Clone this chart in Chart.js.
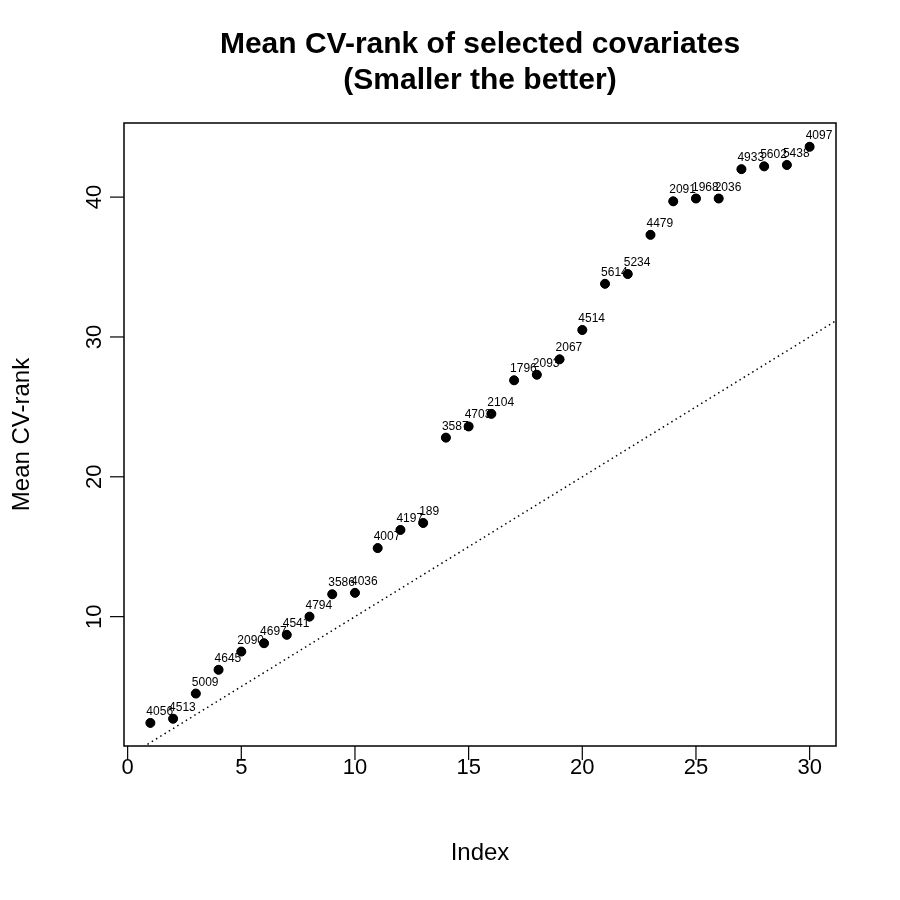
<!DOCTYPE html>
<html>
<head>
<meta charset="utf-8">
<script src="https://cdn.jsdelivr.net/npm/chart.js@4.4.1/dist/chart.umd.min.js"></script>
<style>
  html, body { margin: 0; padding: 0; background: #fff; }
  #wrap { width: 900px; height: 900px; }
</style>
</head>
<body>
<div id="wrap"><canvas id="cv"></canvas></div>
<script>
// données
const indices = [1, 2, 3, 4, 5, 6, 7, 8, 9, 10, 11, 12, 13, 14, 15, 16, 17, 18, 19, 20, 21, 22, 23, 24, 25, 26, 27, 28, 29, 30];
const meanRank = [2.4, 2.7, 4.5, 6.2, 7.5, 8.1, 8.7, 10.0, 11.6, 11.7, 14.9, 16.2, 16.7, 22.8, 23.6, 24.5, 26.9, 27.3, 28.4, 30.5, 33.8, 34.5, 37.3, 39.7, 39.9, 39.9, 42.0, 42.2, 42.3, 43.6];
const covLabels = ['4056', '4513', '5009', '4645', '2090', '4697', '4541', '4794', '3586', '4036', '4007', '4197', '189', '3587', '4703', '2104', '1796', '2093', '2067', '4514', '5614', '5234', '4479', '2091', '1968', '2036', '4933', '5602', '5438', '4097'];
const xTicks = [0, 5, 10, 15, 20, 25, 30];
const yTicks = [10, 20, 30, 40];
const refLine = [-1, 32]; // droite y = x

const FONT = '"Liberation Sans", Arial, Helvetica, sans-serif';

/* -------------------------------------------------------------------------- */
/*                        cadre, axes et textes façon R                        */
/* -------------------------------------------------------------------------- */
const rStyle = {
    id: 'rStyle',
    afterDatasetsDraw(chart) {
        const { ctx, chartArea: a, scales: { x, y } } = chart;
        ctx.save();

        // étiquettes des points
        ctx.fillStyle = '#000';
        ctx.font = '12px ' + FONT;
        ctx.textAlign = 'left';
        ctx.textBaseline = 'alphabetic';
        indices.forEach((ix, i) => {
            ctx.fillText(covLabels[i], x.getPixelForValue(ix) - 4, y.getPixelForValue(meanRank[i]) - 8);
        });
        // on redessine les points par-dessus les étiquettes
        indices.forEach((ix, i) => {
            ctx.beginPath();
            ctx.arc(x.getPixelForValue(ix), y.getPixelForValue(meanRank[i]), 4.5, 0, Math.PI * 2);
            ctx.fill();
        });

        // cadre
        ctx.strokeStyle = '#000';
        ctx.lineWidth = 1.5;
        ctx.strokeRect(a.left, a.top, a.right - a.left, a.bottom - a.top);

        // axe x
        ctx.lineWidth = 1.2;
        ctx.font = '22px ' + FONT;
        ctx.textAlign = 'center';
        ctx.textBaseline = 'middle';
        xTicks.forEach(t => {
            const px = x.getPixelForValue(t);
            ctx.beginPath();
            ctx.moveTo(px, a.bottom);
            ctx.lineTo(px, a.bottom + 14);
            ctx.stroke();
            ctx.fillText(String(t), px, a.bottom + 22);
        });

        // axe y (étiquettes verticales)
        yTicks.forEach(t => {
            const py = y.getPixelForValue(t);
            ctx.beginPath();
            ctx.moveTo(a.left, py);
            ctx.lineTo(a.left - 14, py);
            ctx.stroke();
            ctx.save();
            ctx.translate(a.left - 29, py);
            ctx.rotate(-Math.PI / 2);
            ctx.fillText(String(t), 0, 0);
            ctx.restore();
        });

        // titres des axes
        const cx = (a.left + a.right) / 2;
        const cy = (a.top + a.bottom) / 2;
        ctx.font = '24px ' + FONT;
        ctx.fillText('Index', cx, 853);
        ctx.save();
        ctx.translate(22, cy);
        ctx.rotate(-Math.PI / 2);
        ctx.fillText('Mean CV-rank', 0, 0);
        ctx.restore();

        // titre principal
        ctx.font = 'bold 30px ' + FONT;
        ctx.fillText('Mean CV-rank of selected covariates', cx, 45);
        ctx.fillText('(Smaller the better)', cx, 81);

        ctx.restore();
    }
};

const config = {
    type: 'scatter',
    data: {
        datasets: [
            {
                label: 'ref',
                type: 'line',
                data: refLine.map(v => ({ x: v, y: v })),
                borderColor: '#000',
                borderWidth: 1.5,
                borderDash: [1.5, 3.5],
                pointRadius: 0,
                fill: false
            },
            {
                label: 'Mean CV-rank',
                data: indices.map((ix, i) => ({ x: ix, y: meanRank[i] })),
                backgroundColor: '#000',
                borderColor: '#000',
                pointRadius: 4.5,
                pointHoverRadius: 4.5
            }
        ]
    },
    options: {
        responsive: false,
        animation: false,
        events: [],
        layout: { padding: { left: 124, top: 123, right: 64, bottom: 154 } },
        plugins: { legend: { display: false }, tooltip: { enabled: false } },
        scales: {
            x: { type: 'linear', min: -0.16, max: 31.16, display: false },
            y: { type: 'linear', min: 0.75, max: 45.3, display: false }
        }
    },
    plugins: [rStyle]
};

const canvas = document.getElementById('cv');
canvas.width = 900;
canvas.height = 900;
new Chart(canvas, config);
</script>
</body>
</html>
